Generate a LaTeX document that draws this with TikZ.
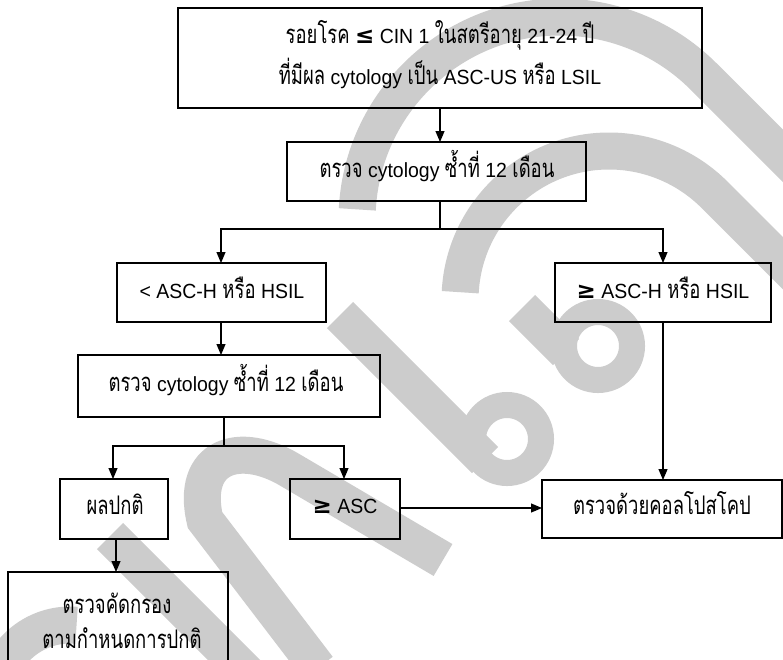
\documentclass[tikz,border=0pt]{standalone}
\usepackage{fontspec}
\setmainfont[FakeStretch=0.95]{Liberation Sans}
\newfontfamily\thaifont[Script=Thai,Scale=1.25,FakeStretch=0.72]{Loma}
\newfontfamily\relfont{DejaVu Sans}
\usetikzlibrary{arrows.meta}
\definecolor{wm}{RGB}{204,204,204}
\newcommand{\thx}[1]{{\thaifont #1}}
\newcommand{\rel}[1]{{\relfont\bfseries\fontsize{23}{23}\selectfont #1}}
\tikzset{
  box/.style={draw=black, line width=1.3pt, inner sep=0pt},
  lbl/.style={anchor=base, inner sep=0pt, font=\fontsize{20.5}{23}\selectfont},
  link/.style={line width=1.1pt, -{Triangle[length=11pt,width=9pt]}},
  plain/.style={line width=1.1pt},
  wmstroke/.style={draw=wm, line width=37pt, line cap=butt},
  wmloop/.style={draw=wm, line width=26pt}
}
\begin{document}
\begin{tikzpicture}[x=1pt,y=1pt,yscale=-1]
\useasboundingbox (0,0) rectangle (783,659);
\clip (0,0) rectangle (783,659);
\fill[white] (0,0) rectangle (783,659);

% background letters
\draw[wmstroke] (560,220) ++(183:203) arc[start angle=183, end angle=315, radius=203] -- ++(200,200);
\draw[wmstroke] (609,300) ++(183:149) arc[start angle=183, end angle=315, radius=149] -- ++(200,200);
\draw[wmloop] (598,346) circle[radius=34];
\draw[wmstroke] (566,352) -- (522,308);
\draw[wmstroke] (340,315) -- (485,460);
\draw[wmloop] (507,439) circle[radius=34];
\draw[wmstroke] (443,560) -- (290,470) .. controls (240,440) and (190,455) .. (205,520) -- (318,668);
\draw[wmstroke] (110,536) -- (260,686);
\draw[wmstroke] (70,700) ++(195:75) arc[start angle=195, end angle=275, radius=75];

% boxes
\draw[box] (178,8) rectangle (702,108);
\node[lbl] (t1a) at (440,43) {\thx{รอยโรค} \rel{≤} CIN 1 \thx{ในสตรีอายุ} 21-24 \thx{ปี}};
\node[lbl] (t1b) at (440,84) {\thx{ที่มีผล} cytology \thx{เป็น} ASC-US \thx{หรือ} LSIL};
\coordinate (b1s) at (440,108);

\draw[box] (287,142) rectangle (586,201);
\coordinate (b2n) at (440,142);
\coordinate (b2s) at (440,201);
\node[lbl] (t2) at (437,177) {\thx{ตรวจ} cytology \thx{ซ้ำที่} 12 \thx{เดือน}};

\draw[box] (117,263) rectangle (326,322);
\coordinate (b3ln) at (221,263);
\coordinate (b3ls) at (221,322);
\node[lbl] (t3l) at (222,298) {< ASC-H \thx{หรือ} HSIL};

\draw[box] (555,263) rectangle (771,322);
\coordinate (b3rn) at (663,263);
\coordinate (b3rs) at (663,322);
\node[lbl] (t3r) at (663,298) {\rel{≥} ASC-H \thx{หรือ} HSIL};

\draw[box] (78,355) rectangle (380,417);
\coordinate (b4n) at (221,355);
\coordinate (b4s) at (224,417);
\node[lbl] (t4) at (226,391) {\thx{ตรวจ} cytology \thx{ซ้ำที่} 12 \thx{เดือน}};

\draw[box] (60,479) rectangle (168,539);
\coordinate (b5n) at (113,479);
\coordinate (b5s) at (116,539);
\node[lbl] (t5) at (115,514) {\thx{ผลปกติ}};

\draw[box] (290,479) rectangle (400,539);
\coordinate (b6n) at (344,479);
\coordinate (b6e) at (400,508);
\node[lbl] (t6) at (345,513) {\rel{≥} ASC};

\draw[box] (542,480) rectangle (782,538);
\coordinate (b7n) at (663,480);
\coordinate (b7w) at (542,508);
\node[lbl] (t7) at (662,514) {\thx{ตรวจด้วยคอลโปสโคป}};

\draw[box] (8,572) rectangle (228,670);
\coordinate (b8n) at (116,572);
\node[lbl] (t8a) at (117,613) {\thx{ตรวจคัดกรอง}};
\node[lbl] (t8b) at (122,648) {\thx{ตามกำหนดการปกติ}};

% connectors
\draw[link] (b1s) -- (b2n);
\coordinate (j1) at (440,229);
\draw[plain] (b2s) -- (j1);
\draw[link] (j1) -| (b3ln);
\draw[link] (j1) -| (b3rn);
\draw[link] (b3ls) -- (b4n);
\coordinate (j2) at (224,446);
\draw[plain] (b4s) -- (j2);
\draw[link] (j2) -| (b5n);
\draw[link] (j2) -| (b6n);
\draw[link] (b3rs) -- (b7n);
\draw[link] (b6e) -- (b7w);
\draw[link] (b5s) -- (b8n);
\end{tikzpicture}
\end{document}
